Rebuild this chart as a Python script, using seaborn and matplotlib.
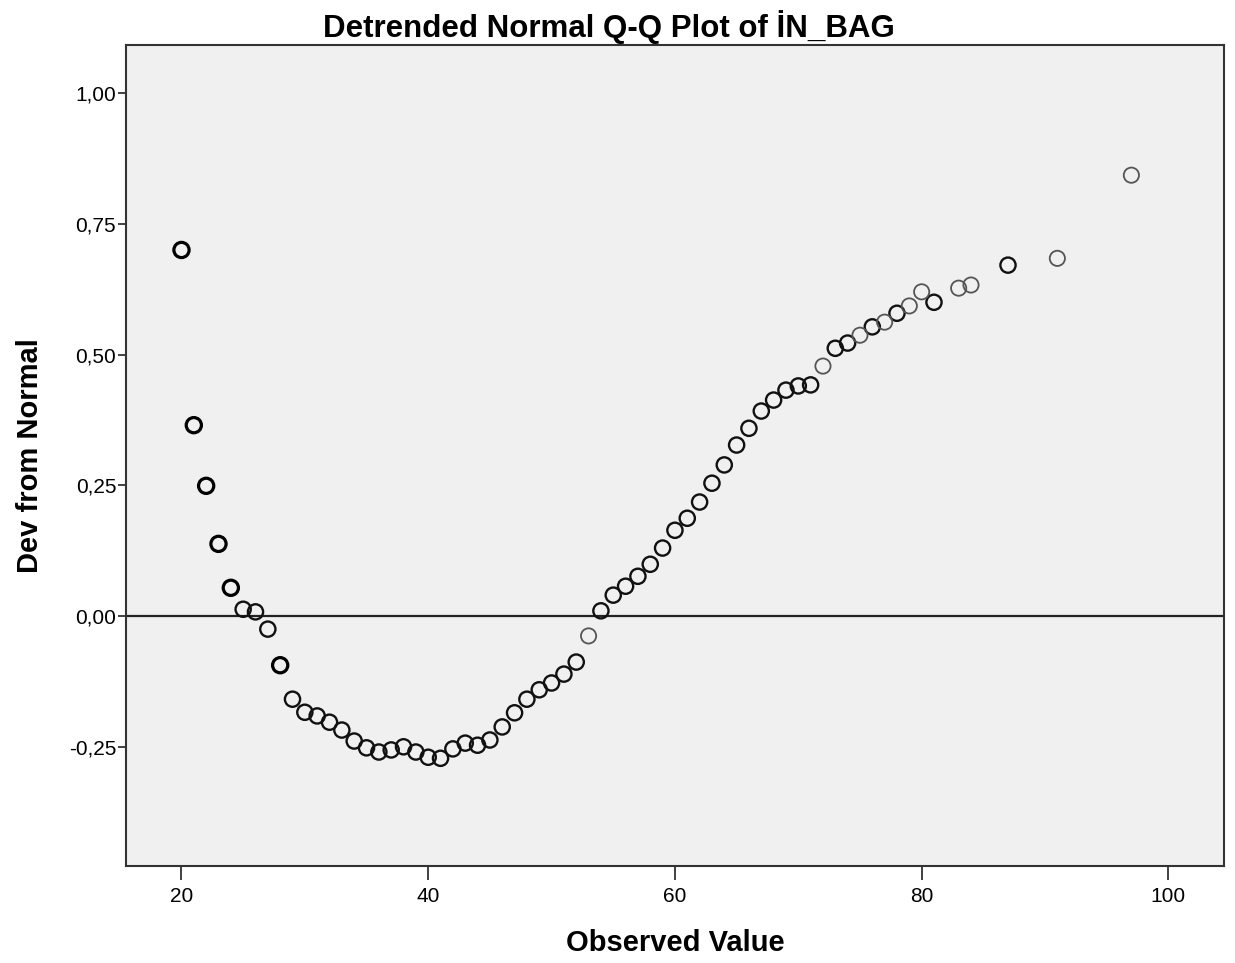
import matplotlib
matplotlib.use("Agg")
import matplotlib.pyplot as plt
from matplotlib.ticker import FuncFormatter
import seaborn as sns
import pandas as pd

observed = [20, 21, 22, 23, 24, 25, 26, 27, 28, 29, 30, 31, 32, 33, 34, 35, 36, 37, 38, 39,
            40, 41, 42, 43, 44, 45, 46, 47, 48, 49, 50, 51, 52, 53, 54, 55, 56, 57, 58, 59,
            60, 61, 62, 63, 64, 65, 66, 67, 68, 69, 70, 71, 72, 73, 74, 75, 76, 77, 78, 79,
            80, 81, 83, 84, 87, 91, 97]
deviation = [0.700, 0.365, 0.249, 0.138, 0.054, 0.013, 0.008, -0.025, -0.094, -0.159,
             -0.184, -0.191, -0.203, -0.218, -0.239, -0.252, -0.260, -0.256, -0.250, -0.260,
             -0.270, -0.272, -0.254, -0.243, -0.247, -0.237, -0.212, -0.185, -0.159, -0.141,
             -0.128, -0.111, -0.088, -0.038, 0.010, 0.040, 0.057, 0.076, 0.099, 0.130,
             0.164, 0.187, 0.218, 0.254, 0.289, 0.327, 0.359, 0.392, 0.413, 0.432,
             0.440, 0.442, 0.478, 0.512, 0.522, 0.537, 0.553, 0.562, 0.579, 0.593,
             0.620, 0.600, 0.627, 0.633, 0.671, 0.684, 0.843]
# how many cases share a point (drives how dark the ring looks)
weight = ["heavy"] * 5 + ["normal"] * 3 + ["heavy"] + ["normal"] * 24 + ["light"] + ["normal"] * 18 \
         + ["light", "normal", "normal", "light", "normal", "light", "normal", "light",
            "light", "normal", "light", "light", "normal", "light", "light"]

df = pd.DataFrame({"obs": observed, "dev": deviation, "w": weight})

sns.set_style("white")
plt.rcParams["font.family"] = ["Liberation Sans", "DejaVu Sans"]
plt.rcParams["text.color"] = "black"
plt.rcParams["axes.labelcolor"] = "black"
plt.rcParams["xtick.color"] = "black"
plt.rcParams["ytick.color"] = "black"

fig = plt.figure(figsize=(12.35, 9.63), dpi=100)
ax = fig.add_axes([0.102, 0.1007, 0.889, 0.8526])
ax.set_facecolor("#f0f0f0")

ax.axhline(0, color="#222222", lw=1.6, zorder=1)

styles = {"heavy": ("#000000", 2.3), "normal": ("#111111", 1.7), "light": ("#555555", 1.3)}
for w, (col, lw) in styles.items():
    sub = df[df["w"] == w]
    sns.scatterplot(data=sub, x="obs", y="dev", ax=ax, s=120, facecolor="none",
                    edgecolor=col, linewidth=lw, zorder=3, legend=False)

ax.set_xlim(15.5, 104.5)
ax.set_ylim(-0.478, 1.092)
ax.set_xticks([20, 40, 60, 80, 100])
ax.set_yticks([-0.25, 0, 0.25, 0.5, 0.75, 1.0])
ax.yaxis.set_major_formatter(FuncFormatter(lambda v, p: f"{v:.2f}".replace(".", ",")))

for sp in ax.spines.values():
    sp.set_color("#333333")
    sp.set_linewidth(1.5)

ax.tick_params(axis="x", direction="out", length=10, width=1.3, color="#333333",
               labelsize=15, pad=5, bottom=True)
ax.tick_params(axis="y", direction="out", length=6, width=1.3, color="#333333",
               labelsize=15, pad=1, left=True)

ax.set_xlabel("Observed Value", fontsize=21, fontweight="bold", labelpad=17)
ax.set_ylabel("Dev from Normal", fontsize=21, fontweight="bold", labelpad=18)
fig.suptitle("Detrended Normal Q-Q Plot of İN_BAG", fontsize=22.5, fontweight="bold",
             x=0.493, y=0.99)

fig.savefig("out.png", dpi=100, facecolor="white")
